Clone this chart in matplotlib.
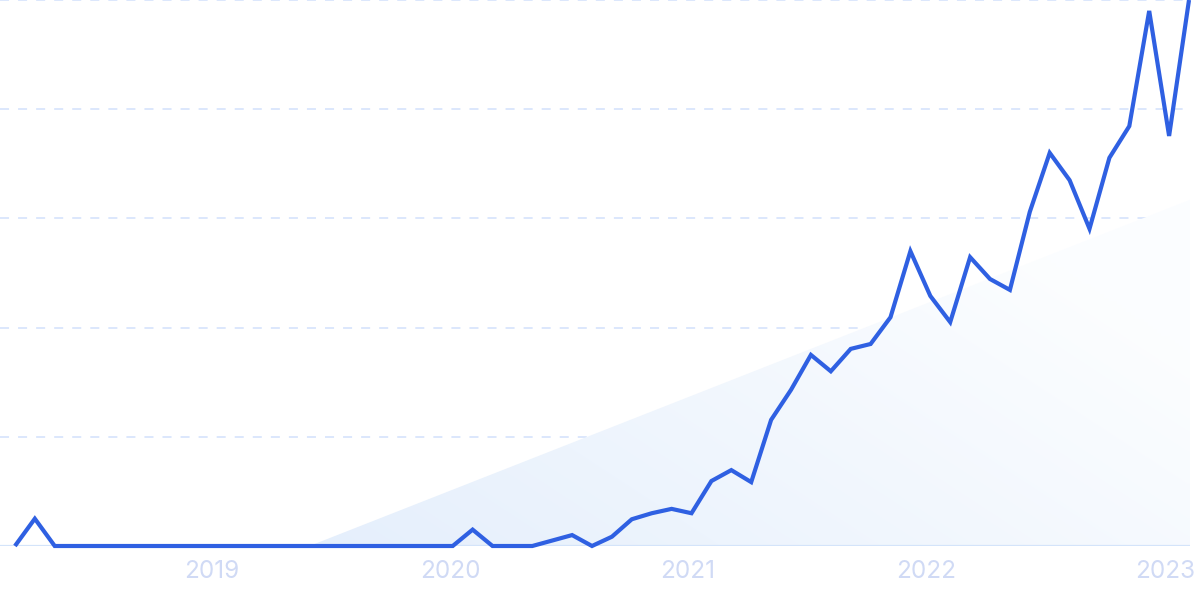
import numpy as np
import matplotlib
matplotlib.use('Agg')
import matplotlib.pyplot as plt
from matplotlib.patches import Polygon

plt.rcParams['font.family'] = ['Inter', 'DejaVu Sans']

# monthly values, Mar 2018 .. Feb 2023 (relative interest, 0-100)
months = np.arange(60)
values = [0, 5, 0, 0, 0, 0, 0, 0, 0, 0,
          0, 0, 0, 0, 0, 0, 0, 0, 0, 0,
          0, 0, 0, 3, 0, 0, 0, 1, 2, 0,
          1.7, 4.9, 6, 6.8, 6, 11.9, 13.9, 11.7, 23.1, 28.6,
          35, 32, 36.1, 37, 41.9, 54, 45.8, 41, 52.9, 48.9,
          46.9, 61.2, 72, 67, 58.1, 71.1, 76.9, 98, 75.1, 100]

# trend area (start month, value) -> (end month, value)
trend_x = [14.8, 59.05]
trend_y = [0, 63.4]

year_ticks = [9.9, 21.9, 33.8, 45.8, 57.8]
year_labels = ['2019', '2020', '2021', '2022', '2023']

fig = plt.figure(figsize=(12, 5.99), dpi=100)
ax = fig.add_axes([0, 53 / 599, 1190 / 1200, 546 / 599])
ax.set_xlim(-0.75, 59.05)
ax.set_ylim(0, 100)

# gradient-filled trend triangle
tri = Polygon([(trend_x[0], trend_y[0]), (trend_x[1], trend_y[1]), (trend_x[1], 0)],
              closed=True, facecolor='none', edgecolor='none')
ax.add_patch(tri)
gx, gy = np.meshgrid(np.linspace(0, 1, 200), np.linspace(0, 1, 100))
t = np.clip(0.75 * gx + 0.45 * (1 - gy), 0, 1)
c0 = np.array([0.898, 0.937, 0.988])
c1 = np.array([0.988, 0.994, 1.0])
img = c0[None, None, :] * (1 - t[..., None]) + c1[None, None, :] * t[..., None]
im = ax.imshow(img, extent=[trend_x[0], trend_x[1], 0, trend_y[1]], origin='upper',
               aspect='auto', zorder=1, interpolation='bilinear')
im.set_clip_path(tri)

for gv in [20, 40, 60, 80, 100]:
    ax.axhline(gv, color='#d9e5fc', lw=1.3, ls=(0, (5, 5)), zorder=0, clip_on=False)
ax.axhline(0, color='#d4e4fa', lw=1.6, zorder=2)

ax.plot(months, values, color='#2f60e2', lw=3, zorder=3,
        solid_joinstyle='miter', solid_capstyle='butt', clip_on=False)

for s in ax.spines.values():
    s.set_visible(False)
ax.set_yticks([])
ax.set_xticks(year_ticks)
ax.set_xticklabels(year_labels)
ax.tick_params(axis='x', length=0, pad=10, labelsize=17.5, labelcolor='#d0daf5')

fig.savefig('out.png', dpi=100)
